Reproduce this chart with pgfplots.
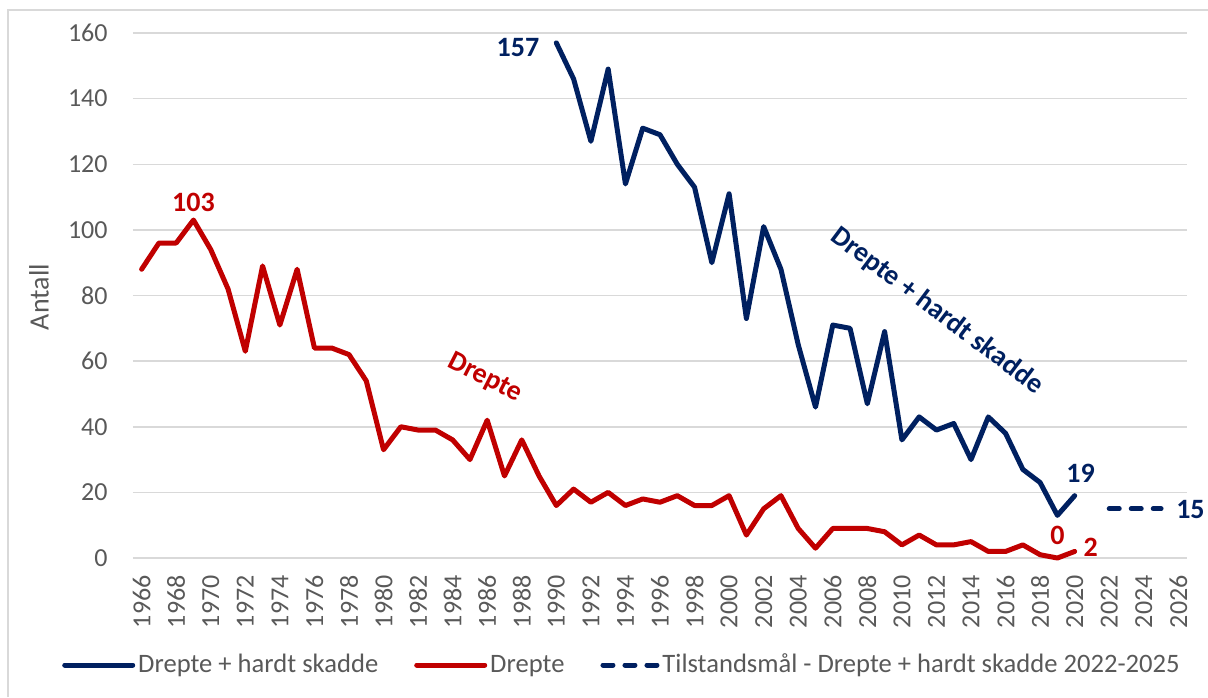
\documentclass[border=0pt]{standalone}
\usepackage{pgfplots}
\pgfplotsset{compat=1.18}
\usepackage{fontspec}
\setmainfont{Carlito}
\definecolor{navy}{HTML}{002060}
\definecolor{dred}{HTML}{C00000}
\definecolor{gridc}{HTML}{D9D9D9}
\definecolor{txt}{HTML}{595959}
\pgfplotsset{dashlegend/.style={legend image code/.code={\draw[##1,line cap=round] (0pt,0pt) -- (27pt,0pt);}}}
\begin{document}
\begin{tikzpicture}
\useasboundingbox (0,0) rectangle (604pt,-348.5pt);
\draw[gridc,line width=0.75pt] (4pt,-348.5pt) -- (4pt,-5pt) -- (604pt,-5pt);
\begin{axis}[
  at={(66.5pt,-279pt)}, anchor=south west,
  width=527pt, height=262.5pt, scale only axis,
  xmin=1965.5, xmax=2026.5, ymin=0, ymax=160,
  xtick={1966,1968,...,2026}, ytick={0,20,...,160},
  ymajorgrids, major grid style={gridc, line width=0.75pt},
  axis line style={draw=none}, tick style={draw=none},
  ticklabel style={font=\fontsize{13}{15}\selectfont, text=txt},
  /pgf/number format/assume math mode=true,
  /pgf/number format/1000 sep={},
  xticklabel style={rotate=90, anchor=east, inner sep=0pt},
  xticklabel shift=8.5pt,
  yticklabel style={anchor=east, inner sep=0pt},
  yticklabel shift=12.5pt,
  ylabel={Antall},
  ylabel style={at={(axis description cs:-0.0892,0.497)}, anchor=center, font=\fontsize{14}{16}\selectfont, text=txt},
  legend columns=3,
  legend style={at={(0.4644,-0.2038)}, anchor=center, draw=none, fill=none,
    font=\fontsize{13.3}{15}\selectfont, inner sep=0pt,
    nodes={text=txt, inner sep=1.5pt},
    /tikz/every even column/.append style={column sep=16.5pt}},
  legend image code/.code={\draw[#1,line cap=round] (0pt,0pt) -- (34pt,0pt);},
  clip=false,
]
\addplot[navy, line width=2.5pt, line join=round, line cap=round] coordinates {
(1990,157)(1991,146)(1992,127)(1993,149)(1994,114)(1995,131)(1996,129)(1997,120)
(1998,113)(1999,90)(2000,111)(2001,73)(2002,101)(2003,88)(2004,65)(2005,46)
(2006,71)(2007,70)(2008,47)(2009,69)(2010,36)(2011,43)(2012,39)(2013,41)
(2014,30)(2015,43)(2016,38)(2017,27)(2018,23)(2019,13)(2020,19)};
\addlegendentry{Drepte + hardt skadde}
\addplot[dred, line width=2.5pt, line join=round, line cap=round] coordinates {
(1966,88)(1967,96)(1968,96)(1969,103)(1970,94)(1971,82)(1972,63)(1973,89)
(1974,71)(1975,88)(1976,64)(1977,64)(1978,62)(1979,54)(1980,33)(1981,40)
(1982,39)(1983,39)(1984,36)(1985,30)(1986,42)(1987,25)(1988,36)(1989,25)
(1990,16)(1991,21)(1992,17)(1993,20)(1994,16)(1995,18)(1996,17)(1997,19)
(1998,16)(1999,16)(2000,19)(2001,7)(2002,15)(2003,19)(2004,9)(2005,3)
(2006,9)(2007,9)(2008,9)(2009,8)(2010,4)(2011,7)(2012,4)(2013,4)
(2014,5)(2015,2)(2016,2)(2017,4)(2018,1)(2019,0)(2020,2)};
\addlegendentry{Drepte}
\addplot[navy, line width=2.5pt, line cap=round, dash pattern=on 5pt off 6pt, dashlegend] coordinates {
(2022,15)(2023,15)(2024,15)(2025,15)};
\addlegendentry{Tilstandsmål - Drepte + hardt skadde 2022-2025}
\node[font=\bfseries\fontsize{14}{16}\selectfont, text=navy, anchor=east, xshift=-5pt, yshift=-2.5pt] at (axis cs:1990,157) {157};
\node[font=\bfseries\fontsize{14}{16}\selectfont, text=dred, yshift=9pt] at (axis cs:1969,103) {103};
\node[font=\bfseries\fontsize{14}{16}\selectfont, text=navy, xshift=3pt, yshift=11pt] at (axis cs:2020,19) {19};
\node[font=\bfseries\fontsize{14}{16}\selectfont, text=dred, yshift=11.5pt] at (axis cs:2019,0) {0};
\node[font=\bfseries\fontsize{14}{16}\selectfont, text=dred, xshift=8pt, yshift=2pt] at (axis cs:2020,2) {2};
\node[font=\bfseries\fontsize{14}{16}\selectfont, text=navy, xshift=14.7pt, yshift=-0.5pt] at (axis cs:2025,15) {15};
\node[font=\bfseries\fontsize{14}{16}\selectfont, text=dred, rotate=-27] at (axis cs:1985.87,54.86) {Drepte};
\node[font=\bfseries\fontsize{14}{16}\selectfont, text=navy, rotate=-37] at (axis cs:2012.03,75.28) {Drepte + hardt skadde};
\end{axis}
\end{tikzpicture}
\end{document}
